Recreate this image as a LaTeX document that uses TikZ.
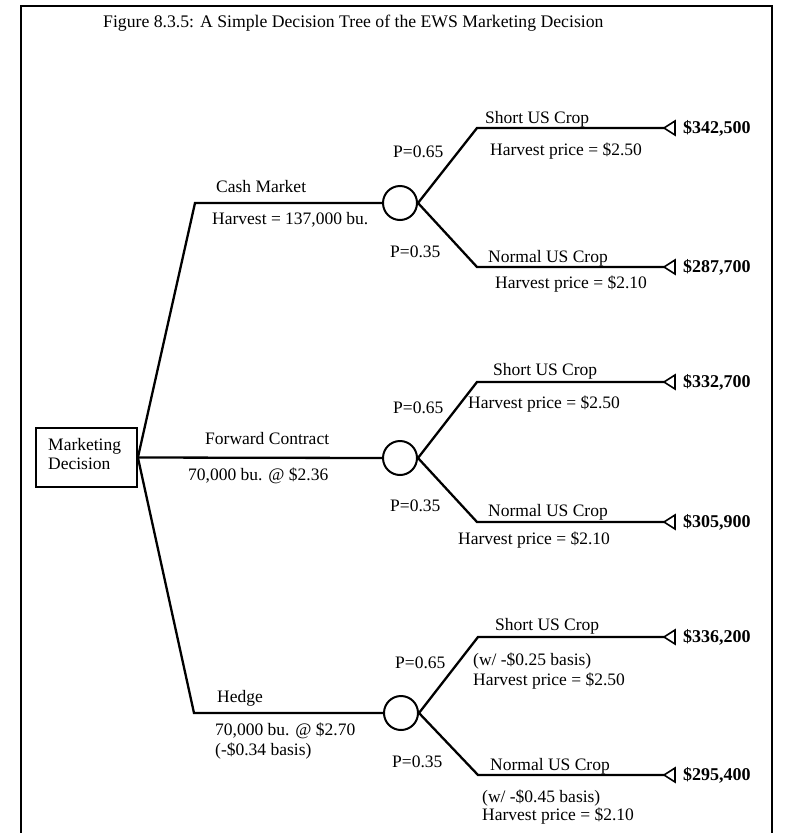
\documentclass[tikz,border=0pt]{standalone}
\usepackage{fontspec}
\setmainfont{Liberation Serif}
\begin{document}
\begin{tikzpicture}[x=1pt,y=-1pt,
  lbl/.style={anchor=west,inner sep=0pt,text height=11.5pt,text depth=0pt,font=\fontsize{17.5}{20}\selectfont},
  val/.style={anchor=west,inner sep=0pt,text height=11.5pt,text depth=0pt,font=\fontsize{18}{20}\selectfont\bfseries},
  branch/.style={line width=2.3pt,line join=miter},
  chance/.style={circle,draw,line width=2pt,minimum size=34pt,inner sep=0pt},
  term/.style={line width=1.6pt,line join=miter},
  ]
\useasboundingbox (0,0) rectangle (785,833);
% frame
\draw[line width=2pt] (21,833) -- (21,6) -- (772,6) -- (772,833);
\node[lbl,anchor=west,font=\fontsize{17.7}{20}\selectfont] (title) at (103,22) {Figure 8.3.5: A Simple Decision Tree of the EWS Marketing Decision};

% decision box
\node[draw,line width=1.8pt,minimum width=101pt,minimum height=59pt,inner sep=0pt] (dec) at (86.5,457.5) {};
\node[lbl,anchor=west] (decA) at (48,445) {Marketing};
\node[lbl,anchor=west] (decB) at (48,464) {Decision};

% chance nodes
\node[chance] (c1) at (400,203) {};
\node[chance] (c2) at (400,458) {};
\node[chance] (c3) at (401,713) {};

\coordinate (k1) at (195,203);
\coordinate (k3) at (194,713);
\draw[branch] (dec.east) -- (k1) -- (c1.west);
\draw[branch] (dec.east) -- (c2.west);
\draw[branch] (dec.east) -- (k3) -- (c3.west);

% outcome corners and tips
\coordinate (u1) at (477,128); \coordinate (t1) at (664,128);
\coordinate (l1) at (477,267); \coordinate (s1) at (664,267);
\coordinate (u2) at (477,382); \coordinate (t2) at (664,382);
\coordinate (l2) at (477,522); \coordinate (s2) at (664,522);
\coordinate (u3) at (478,637); \coordinate (t3) at (664,637);
\coordinate (l3) at (478,775); \coordinate (s3) at (664,775);

\draw[branch] (c1.east) -- (u1) -- (t1);
\draw[branch] (c1.east) -- (l1) -- (s1);
\draw[branch] (c2.east) -- (u2) -- (t2);
\draw[branch] (c2.east) -- (l2) -- (s2);
\draw[branch] (c3.east) -- (u3) -- (t3);
\draw[branch] (c3.east) -- (l3) -- (s3);

\foreach \t in {t1,s1,t2,s2,t3,s3}{
  \draw[term,fill=white] (\t) -- ++(11,-7) -- ++(0,14) -- cycle;
}

% left branch labels
\node[lbl] (cashA) at (216,187) {Cash Market};
\node[lbl] (cashB) at (212,219) {Harvest = 137,000 bu.};
\node[lbl] (fwdA) at (205,439) {Forward Contract};
\node[lbl] (fwdB) at (188,475) {70,000 bu. @ \$2.36};
\node[lbl] (hedA) at (217,697) {Hedge};
\node[lbl] (hedB) at (215,730) {70,000 bu. @ \$2.70};
\node[lbl] (hedC) at (215,750) {(-\$0.34 basis)};

% group 1
\node[lbl] (p1a) at (393,152) {P=0.65};
\node[lbl] (p1b) at (390,252) {P=0.35};
\node[lbl] (g1a) at (485,118) {Short US Crop};
\node[lbl] (g1b) at (490,150) {Harvest price = \$2.50};
\node[lbl] (g1c) at (488,257) {Normal US Crop};
\node[lbl] (g1d) at (495,283) {Harvest price = \$2.10};
\node[val] (v1a) at (683,128) {\$342,500};
\node[val] (v1b) at (683,267) {\$287,700};

% group 2
\node[lbl] (p2a) at (393,408) {P=0.65};
\node[lbl] (p2b) at (390,506) {P=0.35};
\node[lbl] (g2a) at (493,370) {Short US Crop};
\node[lbl] (g2b) at (468,403) {Harvest price = \$2.50};
\node[lbl] (g2c) at (488,511) {Normal US Crop};
\node[lbl] (g2d) at (458,539) {Harvest price = \$2.10};
\node[val] (v2a) at (683,382) {\$332,700};
\node[val] (v2b) at (683,522) {\$305,900};

% group 3
\node[lbl] (p3a) at (395,663) {P=0.65};
\node[lbl] (p3b) at (392,762) {P=0.35};
\node[lbl] (g3a) at (495,625) {Short US Crop};
\node[lbl] (g3b) at (473,660) {(w/ -\$0.25 basis)};
\node[lbl] (g3c) at (473,680) {Harvest price = \$2.50};
\node[lbl] (g3d) at (490,765) {Normal US Crop};
\node[lbl] (g3e) at (482,797) {(w/ -\$0.45 basis)};
\node[lbl] (g3f) at (482,815) {Harvest price = \$2.10};
\node[val] (v3a) at (683,637) {\$336,200};
\node[val] (v3b) at (683,775) {\$295,400};
\end{tikzpicture}
\end{document}
